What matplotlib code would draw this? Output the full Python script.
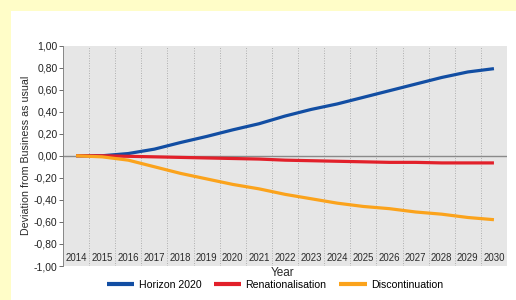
# -*- coding: utf-8 -*-
import numpy as np
import matplotlib
matplotlib.use('Agg')
import matplotlib.pyplot as plt
from matplotlib.patches import Rectangle

years = [str(y) for y in range(2014, 2031)]
horizon = [0.0, 0.0, 0.02, 0.06, 0.12, 0.175, 0.235, 0.29, 0.36, 0.42, 0.47,
           0.53, 0.59, 0.65, 0.71, 0.76, 0.79]
renat = [0.0, 0.0, -0.005, -0.01, -0.015, -0.02, -0.025, -0.03, -0.04, -0.045,
         -0.05, -0.055, -0.06, -0.06, -0.065, -0.065, -0.065]
discont = [0.0, -0.01, -0.04, -0.10, -0.16, -0.21, -0.26, -0.30, -0.35, -0.39,
           -0.43, -0.46, -0.48, -0.51, -0.53, -0.56, -0.58]
yticks = [1.0, 0.8, 0.6, 0.4, 0.2, 0.0, -0.2, -0.4, -0.6, -0.8, -1.0]

plt.rcParams['font.family'] = ['Liberation Sans', 'DejaVu Sans']

fig = plt.figure(figsize=(5.16, 3.0), dpi=100)
fig.patch.set_facecolor('#fffdc8')
fig.patches.append(Rectangle((11 / 516, 0), 1, 1 - 11 / 300, transform=fig.transFigure,
                             facecolor='white', edgecolor='none', zorder=-10))

ax = fig.add_axes([63 / 516, 1 - 266 / 300, 444 / 516, (266 - 45.5) / 300])
ax.set_facecolor('#e6e6e6')
x = np.arange(len(years))

for b in np.arange(0.5, len(years), 1.0):
    ax.axvline(b, color='#a8a8a8', lw=0.6, ls=(0, (1.2, 1.8)), zorder=1)
ax.axhline(0, color='#8a8a8a', lw=1.0, zorder=2)

ax.plot(x, horizon, color='#124ea3', lw=2.3, label='Horizon 2020', zorder=3,
        solid_capstyle='butt')
ax.plot(x, renat, color='#e2202a', lw=2.3, label='Renationalisation', zorder=3,
        solid_capstyle='butt')
ax.plot(x, discont, color='#fba31c', lw=2.3, label='Discontinuation', zorder=3,
        solid_capstyle='butt')

for i, yr in enumerate(years):
    ax.text(i, -0.925, yr, ha='center', va='center', fontsize=6.9, color='#2a2a2a')

ax.set_xlim(-0.5, len(years) - 0.5)
ax.set_ylim(-1.0, 1.0)
ax.set_xticks([])
ax.set_yticks(yticks)
ax.set_yticklabels([('%.2f' % v).replace('.', ',') for v in yticks])
ax.tick_params(axis='y', length=3, width=0.6, color='#555555', labelsize=7.5,
               labelcolor='#222222', pad=1)
for s in ['top', 'right', 'bottom']:
    ax.spines[s].set_visible(False)
ax.spines['left'].set_color('#777777')
ax.spines['left'].set_linewidth(0.6)

ax.set_ylabel('Deviation from Business as usual', fontsize=7.7, color='#2a2a2a',
              labelpad=2)
fig.text(283 / 516, 1 - 273 / 300, 'Year', ha='center', va='center',
         fontsize=8.5, color='#2a2a2a')
leg = fig.legend(loc='center', bbox_to_anchor=(275 / 516, 1 - 285 / 300), ncol=3,
                 frameon=False, fontsize=7.6, handlelength=2.6, handletextpad=0.4,
                 columnspacing=1.2, borderpad=0)
for h in leg.legend_handles:
    h.set_linewidth(3.0)

plt.savefig('out.png', dpi=100, facecolor=fig.get_facecolor())
